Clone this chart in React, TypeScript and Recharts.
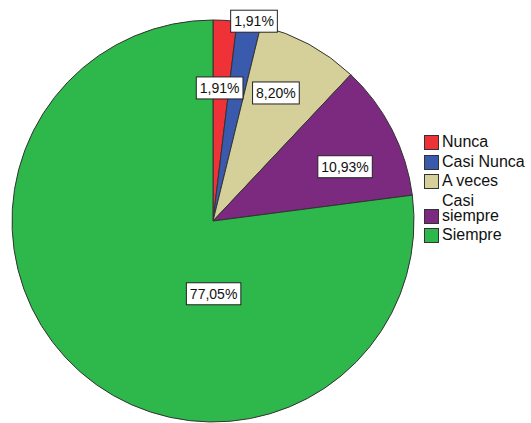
import { PieChart, Pie, Cell, Legend } from 'recharts';

const categories = ['Nunca', 'Casi Nunca', 'A veces', 'Casi siempre', 'Siempre'];
const percentages = [1.91, 1.91, 8.2, 10.93, 77.05];
const COLORS = ['#ef3138', '#3a5aae', '#d5cf99', '#7b2a80', '#2eb84b'];

// label box centres, as fractions of the radius from the pie centre
const LABEL_POS = [
  [0.033, -0.662],
  [0.204, -0.994],
  [0.313, -0.637],
  [0.657, -0.27],
  [0.003, 0.362],
];

const data = categories.map((name, i) => ({ name, value: percentages[i] }));

const FONT = '"Liberation Sans", Arial, sans-serif';
const fmt = (v: number) => `${v.toFixed(2).replace('.', ',')}%`;

const CHAR_W: Record<string, number> = { ',': 0.278, '%': 0.889 };
const textWidth = (s: string, size: number) =>
  s.split('').reduce((w, c) => w + (CHAR_W[c] ?? 0.556), 0) * size;

const renderLabel = (props: any) => {
  const { cx, cy, outerRadius, index, value } = props;
  const [fx, fy] = LABEL_POS[index];
  const x = cx + fx * outerRadius;
  const y = cy + fy * outerRadius;
  const txt = fmt(value);
  const w = textWidth(txt, 14) + 7;
  const h = 22;
  return (
    <g key={index}>
      <rect x={x - w / 2} y={y - h / 2} width={w} height={h} fill="#fff" stroke="#222" strokeWidth={1} />
      <text x={x} y={y + 5} textAnchor="middle" fontSize={14} fontFamily={FONT} fill="#111">
        {txt}
      </text>
    </g>
  );
};

const renderLegend = () => (
  <div style={{ display: 'flex', flexDirection: 'column', gap: 4.5, fontFamily: FONT, fontSize: 16, color: '#111' }}>
    {categories.map((c, i) => (
      <div key={c} style={{ display: 'flex', alignItems: 'flex-end' }}>
        <div
          style={{
            width: 15,
            height: 15,
            boxSizing: 'border-box',
            background: COLORS[i],
            border: '1px solid #333',
            marginRight: 3,
            marginBottom: -1,
            flexShrink: 0,
          }}
        />
        <div style={{ lineHeight: '15px', width: 89 }}>{c}</div>
      </div>
    ))}
  </div>
);

export default function App() {
  return (
    <div style={{ position: 'absolute', left: 0, top: 0, background: '#fff' }}>
      <PieChart width={531} height={423} margin={{ top: 0, right: 0, bottom: 0, left: 0 }}>
        <Pie
          data={data}
          dataKey="value"
          nameKey="name"
          cx={213}
          cy={221}
          outerRadius={201}
          startAngle={90}
          endAngle={-270}
          stroke="#333"
          strokeWidth={1}
          labelLine={false}
          label={renderLabel}
          isAnimationActive={false}
        >
          {data.map((_, i) => (
            <Cell key={i} fill={COLORS[i]} />
          ))}
        </Pie>
        <Legend content={renderLegend} wrapperStyle={{ left: 424, top: 134, width: 107, bottom: 'auto' }} />
      </PieChart>
    </div>
  );
}
